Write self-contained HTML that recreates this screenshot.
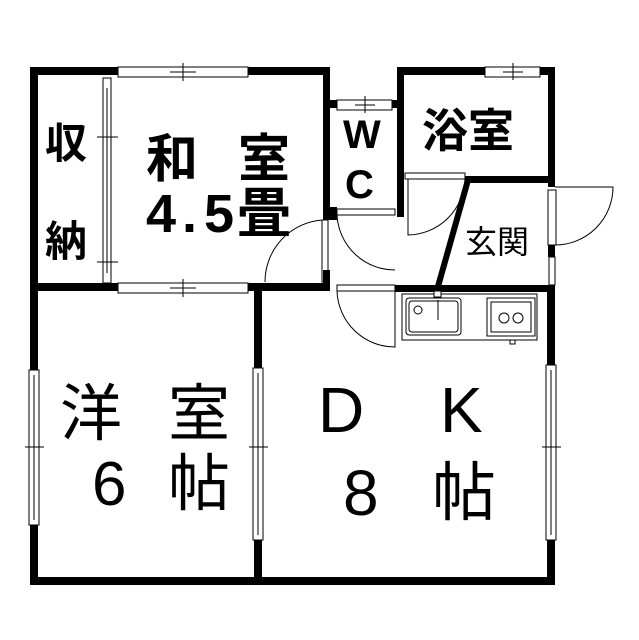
<!DOCTYPE html>
<html><head><meta charset="utf-8"><style>
html,body{margin:0;padding:0;background:#fff}
svg{display:block}
text{font-family:"Liberation Sans","Noto Sans CJK JP",sans-serif;fill:#000}
</style></head><body>
<svg width="639" height="640" viewBox="0 0 639 640" xmlns="http://www.w3.org/2000/svg">
<g fill="#000">
<rect x="30" y="67" width="8" height="518"/>
<rect x="30" y="577" width="525" height="8"/>
<rect x="547" y="290" width="8" height="295"/>
<rect x="30" y="67" width="88" height="8"/>
<rect x="248" y="67" width="82" height="8"/>
<rect x="323" y="67" width="7" height="150"/>
<rect x="323" y="100" width="14" height="8"/>
<rect x="392" y="100" width="12" height="8"/>
<rect x="397" y="67" width="7" height="150"/>
<rect x="397" y="67" width="88" height="8"/>
<rect x="540" y="67" width="15" height="8"/>
<rect x="548" y="67" width="7" height="120"/>
<rect x="465" y="176" width="90" height="7"/>
<rect x="548" y="245" width="7" height="12"/>
<rect x="30" y="283" width="88" height="8"/>
<rect x="248" y="283" width="82" height="8"/>
<rect x="323" y="270" width="7" height="21"/>
<rect x="395" y="285" width="160" height="7"/>
<rect x="323" y="207" width="14" height="13"/>
<rect x="254" y="283" width="8" height="85"/>
<rect x="254" y="540" width="8" height="45"/>
</g>
<g fill="#fff" stroke="#000" stroke-width="1">
<rect x="118" y="67" width="130" height="10"/>
<rect x="118" y="283" width="130" height="10"/>
<rect x="337" y="100" width="55" height="10"/>
<rect x="485" y="67" width="55" height="10"/>
<rect x="103" y="78" width="8" height="205"/>
<rect x="29" y="370" width="10" height="155"/>
<rect x="253" y="368" width="10" height="172"/>
<rect x="546" y="365" width="10" height="175"/>
<rect x="548" y="190" width="8" height="55"/>
<rect x="549" y="257" width="6" height="28"/>
</g>
<g stroke="#000" stroke-width="1" fill="none">
<path d="M183 63V81M170 72H196M183 279V297M170 288H196M365 96V113M355 105H375M513 63V80M503 72H523M97 137H118M97 262H118M25 447H44M249 447H268M542 447H561"/>
<path d="M107 88V273M34 375V520M258 373V535M551 370V535"/>
<rect x="322" y="220" width="6" height="62"/>
<path d="M322 220A62 62 0 0 0 265 282"/>
<rect x="337" y="209" width="58" height="6"/>
<path d="M337 215A58 58 0 0 0 395 270"/>
<rect x="337" y="285" width="58" height="6"/>
<path d="M337 291A58 58 0 0 0 395 347V291"/>
<rect x="405" y="173" width="60" height="6"/>
<path d="M465 179A58 58 0 0 1 408 235V179"/>
<path d="M555 187H613A58 58 0 0 1 555 245"/>
<rect x="402" y="294" width="135" height="46"/>
<rect x="406" y="298" width="55" height="37" rx="3"/>
<rect x="409" y="301" width="49" height="31" rx="3"/>
<circle cx="418" cy="310" r="4"/>
<path d="M438 300V320"/>
<rect x="487" y="298" width="48" height="38"/>
<rect x="491" y="302" width="40" height="30"/>
<circle cx="504" cy="318" r="5"/><circle cx="518" cy="318" r="5"/>
<rect x="510" y="340" width="5" height="4"/>
</g>
<path d="M468 180L437 290" stroke="#000" stroke-width="6"/>
<rect x="434" y="291" width="7" height="6" fill="#fff" stroke="#000"/>
<text x="45" y="158" font-size="42" font-weight="bold">収</text>
<text x="45" y="256" font-size="42" font-weight="bold">納</text>
<text x="146" y="177" font-size="52" font-weight="bold">和</text>
<text x="238" y="177" font-size="52" font-weight="bold">室</text>
<text x="146" y="232" font-size="54" font-weight="bold">4</text>
<text x="182" y="232" font-size="54" font-weight="bold">.</text>
<text x="204" y="232" font-size="54" font-weight="bold">5</text>
<text x="237" y="232" font-size="54" font-weight="bold">畳</text>
<text x="343" y="148" font-size="40" font-weight="bold">W</text>
<text x="345" y="198" font-size="40" font-weight="bold">C</text>
<text x="422" y="147" font-size="46" font-weight="bold">浴室</text>
<text x="465" y="253" font-size="32">玄関</text>
<text x="60" y="435" font-size="62">洋</text>
<text x="168" y="435" font-size="62">室</text>
<text x="92" y="505" font-size="62">6</text>
<text x="168" y="505" font-size="62">帖</text>
<text x="318" y="432" font-size="64">D</text>
<text x="440" y="432" font-size="64">K</text>
<text x="343" y="515" font-size="64">8</text>
<text x="432" y="515" font-size="64">帖</text>
</svg>
</body></html>
